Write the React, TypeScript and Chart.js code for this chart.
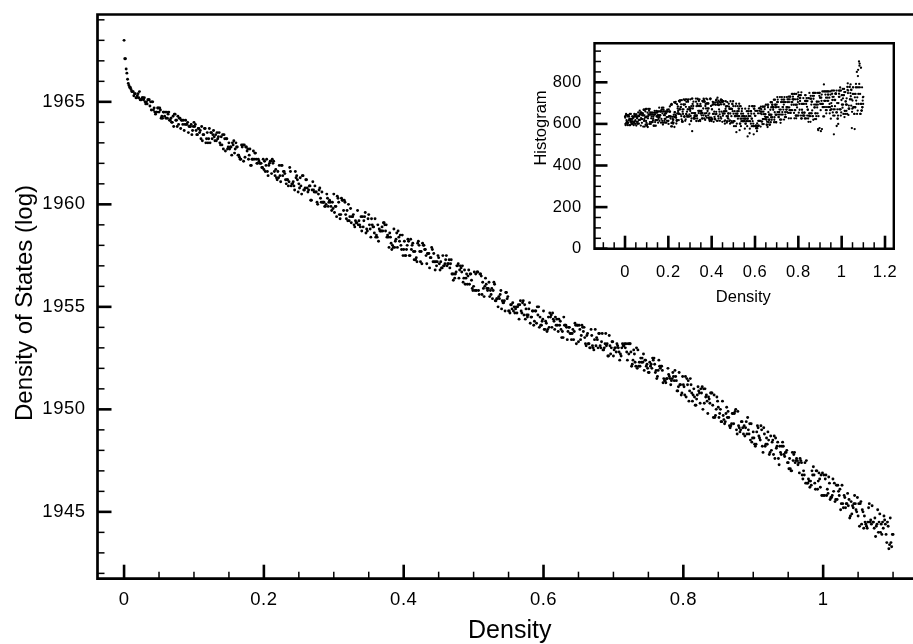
import { useEffect, useRef } from 'react';
import { Chart, registerables } from 'chart.js';

Chart.register(...registerables);

// width of a density bin; points sit at the bin centres 0, 0.001, 0.002 ... 1.1
// even bins are in the *_EVEN arrays (x = i * 2 * BIN), odd bins in *_ODD (x = (2i + 1) * BIN)
const BIN = 0.001;

// main plot: log density of states, even bins (0, 0.002, ... 1.1)
const LOG_DOS_EVEN = [
  1968.0, 1967.1, 1966.4, 1965.9, 1965.7, 1965.6, 1965.5, 1965.3, 1965.4, 1965.2, 1965.4, 1965.5, 1965.1, 1965.2, 1965.1, 1965.0, 1965.0, 1965.1, 1965.1, 1965.0, 1965.0, 1964.6, 1964.5, 1964.5, 1964.7,
  1964.5, 1964.6, 1964.3, 1964.5, 1964.3, 1964.2, 1964.2, 1964.5, 1964.1, 1964.0, 1964.3, 1964.4, 1964.1, 1963.8, 1963.9, 1964.2, 1964.1, 1963.9, 1963.6, 1964.1, 1963.9, 1963.5, 1963.8, 1963.9, 1963.6,
  1964.0, 1963.9, 1963.4, 1963.7, 1963.5, 1963.2, 1963.1, 1963.4, 1963.7, 1963.2, 1963.0, 1963.7, 1963.5, 1963.2, 1963.6, 1963.1, 1963.1, 1963.2, 1963.5, 1962.9, 1962.9, 1962.7, 1963.2, 1963.2, 1962.7,
  1963.0, 1962.8, 1962.4, 1962.9, 1962.5, 1963.0, 1962.8, 1962.4, 1962.2, 1962.9, 1962.9, 1962.9, 1962.8, 1962.6, 1962.2, 1962.7, 1961.9, 1962.2, 1962.2, 1962.5, 1962.0, 1962.2, 1962.0, 1962.0, 1961.8,
  1961.7, 1961.6, 1962.2, 1961.4, 1962.0, 1962.1, 1962.2, 1962.1, 1961.4, 1961.3, 1961.6, 1961.9, 1961.1, 1961.9, 1961.6, 1961.5, 1961.0, 1961.2, 1961.1, 1961.6, 1961.0, 1961.1, 1960.7, 1961.3, 1961.2,
  1961.0, 1961.3, 1960.5, 1961.4, 1960.7, 1961.2, 1960.8, 1960.7, 1960.9, 1960.2, 1961.1, 1960.6, 1960.6, 1960.1, 1960.5, 1960.8, 1960.1, 1960.1, 1960.1, 1959.9, 1960.5, 1959.9, 1960.2, 1959.9, 1960.1,
  1960.5, 1959.9, 1959.4, 1960.3, 1959.5, 1959.5, 1960.2, 1959.7, 1960.1, 1959.3, 1959.2, 1959.2, 1959.8, 1959.4, 1959.5, 1958.9, 1959.1, 1959.7, 1959.2, 1958.9, 1958.7, 1958.9, 1959.4, 1958.6, 1958.7,
  1959.5, 1958.8, 1959.3, 1958.9, 1958.6, 1958.4, 1958.4, 1958.2, 1958.7, 1958.7, 1958.7, 1959.1, 1958.7, 1958.4, 1958.4, 1958.6, 1958.1, 1958.0, 1958.8, 1958.2, 1958.6, 1958.7, 1958.2, 1958.0, 1958.5,
  1957.8, 1957.5, 1957.8, 1958.3, 1957.5, 1958.3, 1958.0, 1957.7, 1957.7, 1957.4, 1958.1, 1958.0, 1957.2, 1957.1, 1958.0, 1957.8, 1957.5, 1957.6, 1957.6, 1957.4, 1957.9, 1957.2, 1957.2, 1957.2, 1957.2,
  1957.4, 1956.8, 1956.9, 1957.5, 1957.0, 1957.3, 1957.0, 1957.1, 1956.9, 1957.3, 1956.6, 1956.6, 1956.6, 1957.0, 1957.1, 1956.8, 1956.9, 1957.0, 1956.4, 1956.1, 1956.6, 1956.5, 1956.1, 1956.6, 1955.9,
  1956.0, 1955.8, 1955.8, 1956.7, 1955.6, 1956.6, 1955.6, 1955.9, 1956.0, 1956.1, 1955.8, 1956.2, 1955.8, 1955.9, 1955.8, 1956.1, 1955.3, 1955.4, 1955.5, 1955.6, 1954.9, 1955.2, 1955.3, 1955.7, 1955.4,
  1954.8, 1954.7, 1955.1, 1955.2, 1955.0, 1954.9, 1954.7, 1955.1, 1955.1, 1954.8, 1955.2, 1954.6, 1954.4, 1954.6, 1954.6, 1955.2, 1954.5, 1954.8, 1954.1, 1954.8, 1954.2, 1954.6, 1954.0, 1954.1, 1954.3,
  1954.8, 1953.9, 1954.2, 1953.9, 1954.0, 1954.5, 1954.0, 1954.4, 1953.9, 1954.1, 1954.1, 1954.4, 1954.3, 1953.5, 1953.5, 1954.1, 1954.1, 1953.4, 1954.0, 1953.7, 1953.4, 1953.9, 1953.8, 1954.1, 1954.1,
  1953.3, 1953.9, 1953.6, 1954.0, 1954.0, 1953.2, 1953.6, 1953.2, 1953.0, 1953.9, 1953.1, 1952.9, 1953.9, 1953.5, 1953.0, 1953.7, 1953.0, 1953.7, 1952.9, 1953.2, 1953.1, 1952.6, 1953.6, 1952.7, 1953.3,
  1952.6, 1953.0, 1952.8, 1953.1, 1952.8, 1952.7, 1953.0, 1953.1, 1953.2, 1953.2, 1952.4, 1952.7, 1953.2, 1952.1, 1952.4, 1952.7, 1952.1, 1952.0, 1952.1, 1952.1, 1952.3, 1952.3, 1951.9, 1952.4, 1952.2,
  1951.8, 1952.3, 1952.2, 1952.5, 1952.5, 1951.8, 1951.5, 1951.9, 1952.1, 1952.1, 1951.9, 1951.5, 1951.4, 1951.5, 1952.0, 1951.6, 1951.2, 1951.5, 1951.6, 1951.9, 1951.4, 1950.9, 1951.8, 1951.2, 1950.8,
  1951.2, 1950.7, 1950.6, 1951.2, 1950.4, 1951.5, 1950.8, 1950.7, 1950.6, 1950.2, 1950.7, 1950.9, 1950.3, 1950.8, 1950.0, 1950.3, 1950.6, 1950.4, 1950.6, 1950.3, 1950.8, 1950.2, 1950.7, 1949.7, 1950.6,
  1950.1, 1949.8, 1949.4, 1950.4, 1949.5, 1949.4, 1950.1, 1949.9, 1949.2, 1949.2, 1949.8, 1949.3, 1949.9, 1949.0, 1949.9, 1949.1, 1949.0, 1949.4, 1948.8, 1948.7, 1949.4, 1949.6, 1948.8, 1948.5, 1948.4,
  1948.9, 1948.3, 1948.3, 1949.2, 1948.7, 1948.5, 1949.0, 1947.9, 1948.8, 1948.3, 1948.3, 1948.5, 1947.9, 1948.0, 1948.5, 1948.7, 1948.6, 1948.2, 1947.6, 1948.2, 1947.8, 1948.4, 1947.8, 1947.9, 1948.0,
  1947.4, 1947.6, 1947.0, 1947.9, 1947.8, 1947.4, 1947.6, 1947.3, 1946.9, 1947.5, 1946.8, 1947.0, 1947.4, 1947.5, 1946.4, 1946.5, 1946.5, 1947.0, 1947.2, 1946.4, 1947.0, 1946.1, 1946.9, 1946.2, 1945.8,
  1945.8, 1945.8, 1946.8, 1946.1, 1946.7, 1945.6, 1945.7, 1946.6, 1946.4, 1945.6, 1945.6, 1946.0, 1946.1, 1945.4, 1945.4, 1945.8, 1945.2, 1945.4, 1945.3, 1944.7, 1945.5, 1945.3, 1945.4, 1945.4, 1945.0,
  1944.8, 1944.3, 1945.5, 1945.1, 1944.2, 1944.5, 1944.3, 1944.5, 1945.4, 1944.6, 1945.3, 1944.5, 1944.7, 1944.3, 1945.1, 1944.5, 1944.0, 1943.9, 1944.2, 1944.6, 1943.9, 1944.5, 1943.2, 1944.7, 1943.3,
  1943.9,
];

// main plot: log density of states, odd bins (0.001, 0.003, ... 1.099)
const LOG_DOS_ODD = [
  1967.1, 1966.6, 1966.1, 1965.8, 1965.7, 1965.5, 1965.5, 1965.4, 1965.2, 1965.3, 1965.2, 1965.1, 1965.1, 1965.2, 1965.2, 1964.9, 1964.9, 1965.1, 1964.8, 1964.6, 1965.0, 1964.7, 1964.4, 1964.5, 1964.7,
  1964.7, 1964.2, 1964.2, 1964.5, 1964.5, 1964.5, 1964.4, 1964.1, 1964.2, 1964.0, 1963.8, 1964.4, 1964.1, 1964.3, 1964.2, 1963.7, 1964.1, 1964.1, 1963.9, 1963.9, 1964.0, 1963.8, 1963.8, 1963.4, 1963.8,
  1963.8, 1963.6, 1963.4, 1963.7, 1963.6, 1963.8, 1963.4, 1963.7, 1963.0, 1963.5, 1963.2, 1963.0, 1963.5, 1963.4, 1963.3, 1963.4, 1963.5, 1963.3, 1963.0, 1963.3, 1963.4, 1963.4, 1962.6, 1963.2, 1962.8,
  1962.7, 1962.8, 1963.0, 1963.1, 1962.7, 1962.8, 1962.4, 1962.3, 1962.2, 1962.8, 1962.1, 1962.3, 1962.8, 1962.7, 1962.4, 1961.9, 1962.2, 1962.6, 1962.5, 1962.2, 1962.0, 1962.1, 1962.0, 1961.8, 1962.2,
  1962.1, 1961.9, 1961.6, 1961.9, 1962.1, 1961.5, 1962.0, 1961.6, 1961.7, 1961.2, 1961.3, 1961.4, 1961.9, 1961.4, 1961.6, 1961.2, 1961.2, 1960.9, 1961.8, 1960.9, 1961.0, 1960.9, 1961.6, 1961.4, 1960.6,
  1960.8, 1960.9, 1961.4, 1960.7, 1960.8, 1961.2, 1960.6, 1960.9, 1960.2, 1960.7, 1960.7, 1960.9, 1960.6, 1960.0, 1960.7, 1960.3, 1960.6, 1960.1, 1959.9, 1960.0, 1960.3, 1960.1, 1960.1, 1959.7, 1959.8,
  1959.6, 1959.9, 1960.4, 1960.1, 1959.3, 1960.3, 1960.2, 1960.2, 1959.5, 1959.7, 1960.0, 1959.4, 1959.1, 1959.4, 1959.0, 1959.2, 1959.1, 1959.0, 1959.0, 1959.4, 1959.4, 1959.2, 1959.6, 1958.8, 1959.3,
  1959.0, 1958.4, 1959.0, 1958.9, 1959.3, 1958.5, 1959.0, 1958.8, 1958.7, 1958.9, 1959.1, 1959.0, 1959.0, 1958.5, 1957.9, 1958.4, 1957.8, 1957.9, 1957.9, 1958.3, 1957.9, 1958.4, 1958.5, 1957.8, 1957.5,
  1958.2, 1957.5, 1958.0, 1958.2, 1957.5, 1957.8, 1958.1, 1957.3, 1957.3, 1957.2, 1958.2, 1957.7, 1957.7, 1958.1, 1958.0, 1957.8, 1957.1, 1957.6, 1956.9, 1957.4, 1957.8, 1957.6, 1956.8, 1957.0, 1957.5,
  1957.1, 1957.2, 1956.9, 1957.0, 1957.1, 1957.5, 1957.1, 1957.3, 1957.1, 1956.6, 1956.3, 1956.4, 1956.7, 1957.0, 1956.4, 1957.0, 1956.7, 1956.2, 1956.8, 1956.4, 1956.1, 1956.8, 1956.6, 1956.3, 1955.8,
  1956.7, 1956.6, 1956.7, 1955.8, 1956.6, 1956.5, 1956.2, 1955.5, 1956.4, 1955.9, 1955.9, 1955.5, 1955.6, 1955.4, 1956.2, 1955.3, 1955.4, 1955.0, 1955.4, 1955.8, 1955.3, 1955.2, 1954.8, 1955.7, 1955.5,
  1954.8, 1955.1, 1954.9, 1954.8, 1954.7, 1955.0, 1955.0, 1954.4, 1955.3, 1954.7, 1955.3, 1955.1, 1954.9, 1954.5, 1954.9, 1954.2, 1954.5, 1954.8, 1954.3, 1954.8, 1955.0, 1955.0, 1954.5, 1954.1, 1954.4,
  1953.9, 1954.3, 1953.8, 1954.5, 1954.7, 1954.6, 1954.7, 1954.3, 1954.5, 1954.4, 1953.8, 1954.1, 1953.9, 1953.8, 1954.5, 1954.1, 1954.0, 1953.8, 1954.0, 1953.7, 1953.7, 1953.4, 1954.2, 1953.2, 1954.1,
  1954.1, 1953.4, 1954.1, 1953.8, 1953.5, 1953.1, 1953.7, 1953.2, 1953.0, 1953.6, 1953.0, 1953.4, 1953.1, 1953.4, 1953.7, 1953.1, 1953.3, 1952.9, 1953.0, 1953.7, 1953.2, 1952.6, 1953.1, 1953.0, 1953.3,
  1952.9, 1953.0, 1953.2, 1953.0, 1952.4, 1952.6, 1953.2, 1953.1, 1953.0, 1952.8, 1953.2, 1953.2, 1952.8, 1952.2, 1952.9, 1952.3, 1953.0, 1952.9, 1952.3, 1952.5, 1952.5, 1952.7, 1952.4, 1952.1, 1952.0,
  1951.8, 1952.1, 1952.0, 1952.4, 1952.2, 1951.9, 1951.6, 1952.4, 1952.0, 1952.1, 1951.3, 1951.4, 1951.3, 1951.5, 1951.7, 1951.5, 1951.4, 1951.8, 1951.4, 1951.6, 1950.9, 1951.1, 1951.2, 1950.7, 1951.6,
  1951.1, 1951.6, 1951.5, 1951.4, 1950.9, 1951.2, 1950.4, 1951.0, 1950.2, 1950.5, 1951.1, 1950.8, 1951.0, 1951.1, 1951.0, 1951.0, 1950.7, 1949.8, 1950.5, 1950.8, 1950.8, 1949.6, 1949.6, 1950.0, 1950.4,
  1949.6, 1950.0, 1949.4, 1949.7, 1949.3, 1949.8, 1949.6, 1949.6, 1949.1, 1949.3, 1949.8, 1949.8, 1950.0, 1948.8, 1949.2, 1948.9, 1949.4, 1949.1, 1949.2, 1949.1, 1948.8, 1949.0, 1949.3, 1949.3, 1948.6,
  1948.6, 1948.2, 1948.9, 1949.1, 1948.6, 1949.2, 1948.2, 1949.1, 1948.2, 1948.6, 1948.9, 1947.8, 1948.7, 1948.4, 1947.8, 1947.6, 1948.1, 1948.4, 1947.3, 1947.9, 1948.2, 1948.2, 1947.7, 1947.9, 1947.4,
  1947.1, 1947.1, 1947.0, 1947.5, 1947.9, 1947.5, 1947.5, 1947.4, 1947.6, 1947.4, 1946.6, 1946.8, 1946.4, 1946.4, 1946.6, 1946.2, 1946.3, 1946.8, 1946.8, 1946.1, 1947.0, 1946.5, 1946.6, 1946.8, 1946.9,
  1946.8, 1946.6, 1945.8, 1945.9, 1946.4, 1945.7, 1945.8, 1946.0, 1945.5, 1946.3, 1946.3, 1945.8, 1945.1, 1946.3, 1945.2, 1945.7, 1945.4, 1945.9, 1945.6, 1944.8, 1944.9, 1945.2, 1945.8, 1945.1, 1945.7,
  1945.4, 1945.4, 1944.4, 1945.0, 1944.8, 1944.4, 1944.2, 1945.2, 1944.5, 1944.4, 1944.5, 1944.2, 1943.8, 1944.4, 1944.0, 1944.9, 1944.4, 1944.5, 1944.8, 1944.4, 1943.5, 1944.3, 1943.4, 1943.5, 1943.9,
];

// inset: histogram counts, even bins (0, 0.002, ... 1.1)
const HISTOGRAM_EVEN = [
  636, 600, 642, 606, 642, 600, 642, 606, 642, 618, 624, 648, 594, 618, 624, 606, 612, 624, 612, 630, 594, 606, 642, 636, 618,
  646, 592, 610, 628, 601, 637, 637, 601, 619, 664, 646, 646, 628, 650, 605, 623, 650, 587, 668, 614, 641, 668, 660, 672, 632,
  672, 636, 654, 627, 672, 645, 645, 672, 645, 654, 645, 609, 654, 654, 609, 627, 591, 654, 645, 645, 618, 591, 618, 636, 618,
  642, 633, 660, 642, 678, 633, 642, 660, 606, 624, 669, 615, 606, 660, 669, 642, 615, 642, 606, 651, 651, 633, 615, 660, 633,
  615, 670, 637, 659, 659, 626, 692, 604, 692, 634, 623, 601, 606, 634, 585, 656, 700, 706, 629, 618, 695, 618, 684, 651, 618,
  648, 670, 714, 681, 681, 637, 714, 615, 659, 648, 670, 692, 637, 714, 615, 622, 648, 644, 659, 637, 714, 670, 637, 681, 598,
  674, 718, 674, 685, 652, 565, 696, 652, 707, 630, 652, 641, 652, 641, 707, 685, 641, 696, 718, 663, 652, 663, 718, 619, 696,
  685, 652, 641, 652, 652, 707, 641, 718, 707, 707, 619, 696, 674, 652, 630, 718, 674, 641, 674, 630, 619, 630, 718, 619, 630,
  626, 670, 692, 648, 703, 648, 659, 626, 703, 692, 714, 648, 615, 692, 615, 637, 626, 670, 659, 615, 703, 714, 626, 659, 714,
  705, 639, 650, 694, 694, 650, 617, 672, 683, 661, 606, 705, 628, 650, 650, 683, 672, 617, 650, 672, 606, 672, 672, 694, 606,
  685, 613, 613, 661, 637, 685, 589, 560, 601, 661, 685, 637, 673, 673, 637, 601, 601, 685, 649, 625, 673, 637, 613, 625, 637,
  637, 625, 625, 601, 625, 613, 661, 589, 540, 661, 637, 613, 685, 577, 661, 661, 661, 625, 625, 685, 685, 601, 550, 649, 685,
  639, 639, 591, 663, 579, 603, 663, 651, 591, 675, 615, 675, 651, 587, 659, 611, 659, 599, 623, 623, 599, 623, 683, 635, 647,
  692, 632, 596, 610, 585, 680, 656, 620, 596, 644, 644, 704, 632, 644, 704, 632, 680, 668, 680, 608, 632, 716, 692, 680, 608,
  693, 705, 657, 705, 633, 633, 657, 645, 621, 605, 705, 621, 729, 657, 645, 717, 705, 621, 729, 633, 645, 705, 669, 669, 657,
  718, 679, 718, 627, 679, 718, 653, 666, 627, 705, 744, 705, 744, 718, 718, 653, 627, 744, 666, 640, 627, 640, 679, 640, 705,
  752, 654, 738, 668, 710, 738, 640, 752, 626, 654, 696, 696, 640, 696, 640, 626, 738, 710, 696, 724, 682, 710, 668, 724, 724,
  651, 637, 637, 610, 651, 693, 651, 665, 735, 749, 721, 735, 679, 679, 651, 693, 623, 693, 707, 749, 693, 570, 707, 749, 580,
  726, 726, 565, 726, 741, 696, 681, 681, 756, 790, 711, 756, 756, 711, 726, 756, 681, 711, 741, 711, 681, 681, 696, 681, 756,
  625, 700, 760, 745, 730, 760, 670, 550, 715, 670, 715, 745, 745, 760, 655, 670, 625, 600, 760, 745, 730, 760, 670, 640, 655,
  738, 738, 678, 723, 648, 738, 753, 663, 648, 708, 693, 663, 693, 778, 795, 760, 673, 673, 778, 718, 748, 733, 688, 718, 658,
  712, 776, 680, 680, 648, 575, 680, 744, 792, 776, 850, 728, 664, 860, 696, 900, 880, 776, 648, 696, 696, 664, 776, 680, 728,
  730,
];

// inset: histogram counts, odd bins (0.001, 0.003, ... 1.099)
const HISTOGRAM_ODD = [
  630, 594, 648, 618, 612, 636, 594, 606, 636, 636, 594, 624, 612, 648, 606, 600, 636, 600, 636, 630, 606, 648, 612, 600, 636,
  637, 646, 628, 601, 610, 655, 619, 637, 646, 619, 655, 592, 655, 623, 641, 650, 641, 641, 668, 623, 587, 632, 596, 614, 605,
  591, 598, 585, 636, 645, 663, 600, 609, 654, 600, 627, 636, 609, 645, 618, 636, 645, 591, 663, 609, 654, 654, 663, 636, 654,
  660, 606, 624, 633, 615, 660, 642, 660, 660, 669, 678, 651, 597, 678, 606, 660, 624, 651, 624, 660, 606, 660, 669, 660, 615,
  600, 636, 660, 684, 636, 636, 588, 696, 588, 608, 620, 620, 644, 704, 656, 632, 644, 638, 602, 614, 650, 674, 662, 650, 710,
  670, 706, 670, 646, 694, 622, 610, 670, 610, 694, 718, 634, 634, 694, 718, 682, 706, 718, 634, 670, 706, 718, 634, 646, 670,
  662, 638, 614, 626, 722, 722, 674, 686, 626, 626, 638, 626, 638, 722, 614, 638, 626, 722, 686, 614, 710, 686, 662, 614, 650,
  662, 662, 626, 710, 626, 674, 722, 710, 626, 650, 686, 638, 722, 698, 698, 662, 698, 698, 626, 650, 614, 722, 722, 686, 614,
  670, 622, 706, 694, 610, 694, 634, 622, 622, 646, 658, 718, 705, 726, 700, 712, 690, 706, 646, 694, 634, 718, 694, 706, 610,
  649, 709, 709, 661, 613, 601, 661, 709, 685, 637, 613, 685, 637, 625, 697, 613, 673, 601, 709, 673, 637, 613, 697, 661, 709,
  649, 589, 613, 637, 637, 649, 697, 637, 649, 649, 625, 637, 661, 697, 570, 685, 625, 589, 613, 661, 637, 613, 649, 613, 613,
  613, 577, 673, 601, 637, 613, 613, 625, 625, 649, 673, 637, 555, 613, 637, 601, 649, 589, 685, 613, 589, 589, 673, 673, 589,
  663, 591, 579, 591, 565, 579, 590, 615, 591, 615, 663, 675, 615, 683, 671, 647, 611, 683, 683, 659, 647, 683, 671, 647, 623,
  632, 620, 596, 692, 632, 692, 608, 644, 620, 596, 668, 608, 680, 620, 692, 692, 680, 680, 716, 620, 656, 692, 644, 608, 644,
  681, 729, 717, 645, 681, 657, 669, 729, 621, 669, 645, 717, 705, 681, 681, 669, 693, 717, 705, 657, 633, 633, 681, 729, 681,
  705, 653, 731, 705, 666, 731, 731, 653, 666, 692, 666, 718, 731, 718, 692, 744, 666, 718, 692, 640, 744, 692, 718, 718, 731,
  640, 738, 696, 724, 724, 738, 626, 696, 668, 654, 640, 724, 640, 654, 654, 710, 738, 626, 710, 710, 640, 668, 626, 610, 640,
  749, 651, 721, 735, 721, 707, 707, 637, 637, 620, 749, 693, 749, 623, 749, 651, 637, 707, 679, 651, 575, 637, 749, 735, 749,
  696, 666, 696, 711, 575, 756, 696, 636, 681, 636, 711, 681, 741, 666, 651, 666, 756, 726, 756, 741, 756, 726, 651, 666, 741,
  670, 670, 685, 715, 655, 640, 730, 760, 640, 685, 745, 745, 655, 590, 700, 625, 640, 700, 730, 670, 760, 775, 670, 760, 715,
  693, 693, 768, 693, 738, 768, 633, 663, 753, 708, 693, 723, 648, 763, 748, 643, 688, 673, 778, 718, 790, 765, 763, 580, 673,
  744, 776, 680, 744, 648, 728, 680, 776, 712, 696, 648, 776, 830, 744, 776, 792, 890, 744, 648, 870, 664, 664, 680, 712, 696,
];

const MAIN_X_TICKS = [0, 0.2, 0.4, 0.6, 0.8, 1];
const MAIN_X_LABELS = ['0', '0.2', '0.4', '0.6', '0.8', '1'];
const MAIN_Y_TICKS = [1945, 1950, 1955, 1960, 1965];
const MAIN_Y_LABELS = ['1945', '1950', '1955', '1960', '1965'];
const INSET_X_TICKS = [0, 0.2, 0.4, 0.6, 0.8, 1, 1.2];
const INSET_X_LABELS = ['0', '0.2', '0.4', '0.6', '0.8', '1', '1.2'];
const INSET_Y_TICKS = [0, 200, 400, 600, 800];
const INSET_Y_LABELS = ['0', '200', '400', '600', '800'];

const MAIN_X_TITLE = 'Density';
const MAIN_Y_TITLE = 'Density of States (log)';
const INSET_X_TITLE = 'Density';
const INSET_Y_TITLE = 'Histogram';

const FONT = '"Liberation Sans", Arial, Helvetica, sans-serif';
const INK = '#000';

type AxisDeco = {
  name: string;
  box: boolean;
  frameWidth: number;
  xMinor: number; xRatio: number;
  yMinor: number; yRatio: number;
  majorLen: number; minorLen: number;
  letterSpacing: string;
  xTitle: { text: string; x: number; y: number; size: number };
  yTitle: { text: string; x: number; y: number; size: number };
};

function decoPlugin(d: AxisDeco) {
  return {
    id: 'deco-' + d.name,
    beforeDraw(chart: any) {
      chart.ctx.letterSpacing = d.letterSpacing;
    },
    beforeDatasetsDraw(chart: any) {
      chart.ctx.letterSpacing = '0px';
    },
    afterDraw(chart: any) {
      const ctx = chart.ctx as CanvasRenderingContext2D;
      const { left, right, top, bottom } = chart.chartArea;
      const xs = chart.scales.x;
      const ys = chart.scales.y;
      ctx.save();
      (ctx as any).letterSpacing = '0px';
      ctx.strokeStyle = INK;
      ctx.lineCap = 'butt';
      const kx0 = Math.ceil(xs.min / d.xMinor - 1e-9);
      const kx1 = Math.floor(xs.max / d.xMinor + 1e-9);
      for (let k = kx0; k <= kx1; k++) {
        const major = k % d.xRatio === 0;
        const px = xs.getPixelForValue(k * d.xMinor);
        ctx.lineWidth = major ? 2.6 : 1.5;
        ctx.beginPath();
        ctx.moveTo(px, bottom);
        ctx.lineTo(px, bottom - (major ? d.majorLen : d.minorLen));
        ctx.stroke();
      }
      const ky0 = Math.ceil(ys.min / d.yMinor - 1e-9);
      const ky1 = Math.floor(ys.max / d.yMinor + 1e-9);
      for (let k = ky0; k <= ky1; k++) {
        const major = k % d.yRatio === 0;
        const py = ys.getPixelForValue(k * d.yMinor);
        ctx.lineWidth = major ? 2.6 : 1.5;
        ctx.beginPath();
        ctx.moveTo(left, py);
        ctx.lineTo(left + (major ? d.majorLen : d.minorLen), py);
        ctx.stroke();
      }
      ctx.lineWidth = d.frameWidth;
      ctx.lineCap = 'square';
      ctx.beginPath();
      if (d.box) {
        ctx.rect(left, top, right - left, bottom - top);
      } else {
        ctx.moveTo(right + 5, top);
        ctx.lineTo(left, top);
        ctx.lineTo(left, bottom);
        ctx.lineTo(right + 5, bottom);
      }
      ctx.stroke();
      ctx.fillStyle = INK;
      ctx.textAlign = 'center';
      ctx.textBaseline = 'alphabetic';
      ctx.font = `${d.xTitle.size}px ${FONT}`;
      ctx.fillText(d.xTitle.text, d.xTitle.x, d.xTitle.y);
      ctx.save();
      ctx.translate(d.yTitle.x, d.yTitle.y);
      ctx.rotate(-Math.PI / 2);
      ctx.font = `${d.yTitle.size}px ${FONT}`;
      ctx.fillText(d.yTitle.text, 0, 0);
      ctx.restore();
      ctx.restore();
    },
  };
}

function axis(
  min: number, max: number, values: number[], labels: string[],
  size: { w?: number; h?: number }, padding: number, fontSize: number,
) {
  return {
    type: 'linear' as const,
    min, max,
    afterBuildTicks: (s: any) => { s.ticks = values.map((v) => ({ value: v })); },
    afterFit: (s: any) => {
      if (size.w !== undefined) s.width = size.w;
      if (size.h !== undefined) s.height = size.h;
      s.paddingLeft = 0; s.paddingRight = 0; s.paddingTop = 0; s.paddingBottom = 0;
    },
    grid: { display: false, drawTicks: false },
    border: { display: false },
    ticks: {
      padding, color: INK, autoSkip: false, maxRotation: 0, minRotation: 0,
      font: { family: FONT, size: fontSize },
      callback: (_v: any, i: number) => labels[i],
    },
  };
}

function dots(data: { x: number; y: number }[], r: number) {
  return { data, pointRadius: r, pointBackgroundColor: INK, pointBorderWidth: 0, backgroundColor: INK, borderWidth: 0 };
}

export default function App() {
  const mainRef = useRef<HTMLCanvasElement>(null);
  const insetRef = useRef<HTMLCanvasElement>(null);

  useEffect(() => {
    const even = (arr: number[]) => arr.map((y, i) => ({ x: 2 * i * BIN, y }));
    const odd = (arr: number[]) => arr.map((y, i) => ({ x: (2 * i + 1) * BIN, y }));

    const main = new Chart(mainRef.current as HTMLCanvasElement, {
      type: 'scatter',
      data: { datasets: [dots(even(LOG_DOS_EVEN), 1.45), dots(odd(LOG_DOS_ODD), 1.45)] },
      options: {
        animation: false, responsive: false, events: [],
        layout: { padding: { top: 14.5, left: 0, right: 0, bottom: 0 } },
        plugins: { legend: { display: false }, tooltip: { enabled: false } },
        scales: {
          x: axis(-0.038, 1.1228, MAIN_X_TICKS, MAIN_X_LABELS, { h: 644 - 578.7 }, 9.7, 18.5),
          y: axis(1941.74, 1969.26, MAIN_Y_TICKS, MAIN_Y_LABELS, { w: 97.5 }, 12, 18.5),
        } as any,
      },
      plugins: [decoPlugin({
        name: 'main', box: false, frameWidth: 2.7,
        xMinor: 0.05, xRatio: 4, yMinor: 1, yRatio: 5,
        majorLen: 14, minorLen: 7, letterSpacing: '0.5px',
        xTitle: { text: MAIN_X_TITLE, x: 509.7, y: 638, size: 25 },
        yTitle: { text: MAIN_Y_TITLE, x: 32, y: 303, size: 24 },
      })],
    });

    const inset = new Chart(insetRef.current as HTMLCanvasElement, {
      type: 'scatter',
      data: { datasets: [dots(even(HISTOGRAM_EVEN), 1.15), dots(odd(HISTOGRAM_ODD), 1.15)] },
      options: {
        animation: false, responsive: false, events: [],
        layout: { padding: { top: 43.2, left: 0, right: 19.2, bottom: 0 } },
        plugins: { legend: { display: false }, tooltip: { enabled: false } },
        scales: {
          x: axis(-0.1408, 1.2406, INSET_X_TICKS, INSET_X_LABELS, { h: 644 - 248.7 }, 13.4, 16.5),
          y: axis(0, 988, INSET_Y_TICKS, INSET_Y_LABELS, { w: 594.5 }, 12.8, 16.5),
        } as any,
      },
      plugins: [decoPlugin({
        name: 'inset', box: true, frameWidth: 2.4,
        xMinor: 0.05, xRatio: 4, yMinor: 50, yRatio: 4,
        majorLen: 13, minorLen: 6.5, letterSpacing: '0.5px',
        xTitle: { text: INSET_X_TITLE, x: 743.3, y: 302, size: 16.5 },
        yTitle: { text: INSET_Y_TITLE, x: 546, y: 128, size: 16.5 },
      })],
    });

    return () => { main.destroy(); inset.destroy(); };
  }, []);

  const full = { position: 'absolute' as const, left: 0, top: 0, width: 913, height: 644 };
  return (
    <div style={{ ...full, background: '#fff' }}>
      <canvas ref={mainRef} width={913} height={644} style={full} />
      <canvas ref={insetRef} width={913} height={644} style={full} />
    </div>
  );
}
